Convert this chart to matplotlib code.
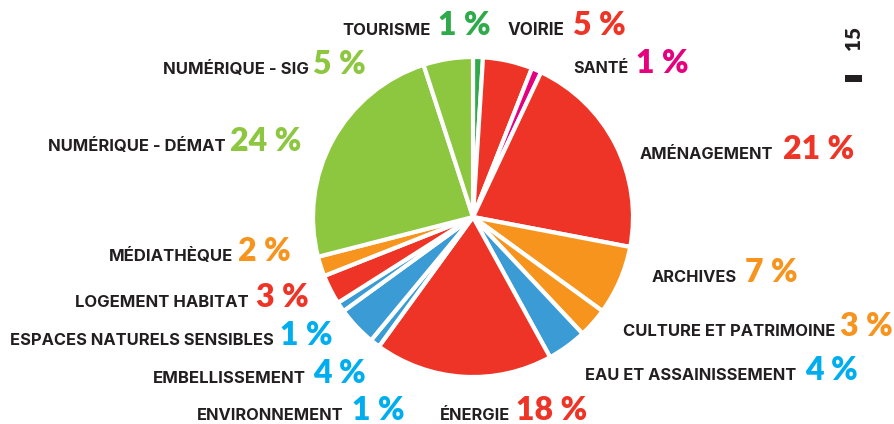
import matplotlib
matplotlib.use("Agg")
import matplotlib.pyplot as plt

# ---- data ----
categories = ["TOURISME", "VOIRIE", "SANTÉ", "AMÉNAGEMENT", "ARCHIVES",
              "CULTURE ET PATRIMOINE", "EAU ET ASSAINISSEMENT", "ÉNERGIE",
              "ENVIRONNEMENT", "EMBELLISSEMENT", "ESPACES NATURELS SENSIBLES",
              "LOGEMENT HABITAT", "MÉDIATHÈQUE", "NUMÉRIQUE - DÉMAT",
              "NUMÉRIQUE - SIG"]
values = [1, 5, 1, 21, 7, 3, 4, 18, 1, 4, 1, 3, 2, 24, 5]
pct_labels = ["1 %", "5 %", "1 %", "21 %", "7 %", "3 %", "4 %", "18 %",
              "1 %", "4 %", "1 %", "3 %", "2 %", "24 %", "5 %"]
page_number = "15"

# ---- styles ----
RED, LGREEN, DGREEN, MAG, ORA, BLUE, CYAN = ("#EE3426", "#8DC63F", "#2EAA4A",
                                             "#E5007D", "#F7941E", "#3A9BD5", "#00AEEF")
slice_colors = [DGREEN, RED, MAG, RED, ORA, ORA, BLUE, RED, BLUE, BLUE, BLUE,
                RED, ORA, LGREEN, LGREEN]
pct_colors = [DGREEN, RED, MAG, RED, ORA, ORA, CYAN, RED, CYAN, CYAN, CYAN,
              RED, ORA, LGREEN, LGREEN]
# label layout in pixel coords: (name x start, name x end, pct x start, baseline y from top)
label_pos = [(342, 430, 438, 35), (508, 565, 573, 35), (573, 628, 636, 73),
             (640, 773, 783, 159), (652, 737, 745, 282), (623, 835, 840, 336),
             (585, 795, 805, 380), (440, 510, 516, 420), (197, 343, 352, 420),
             (153, 305, 313, 383), (10, 272, 280, 345), (75, 248, 256, 307),
             (109, 233, 238, 261), (48, 225, 230, 151), (163, 308, 313, 74)]

W, H = 895, 424
fig = plt.figure(figsize=(W / 100, H / 100), dpi=100)
ax = fig.add_axes([0, 0, 1, 1])
ax.axis("off")

ax.pie(values, colors=slice_colors, startangle=90, counterclock=False,
       center=(473, H - 217), radius=160,
       wedgeprops=dict(edgecolor="white", linewidth=3))
ax.set_xlim(0, W)
ax.set_ylim(0, H)
ax.set_aspect("auto")

name_fam = ["Inter", "DejaVu Sans"]
pct_fam = ["Lato", "DejaVu Sans"]
TXT = "#231F20"
renderer = fig.canvas.get_renderer()
base = 11.0
for name, pct, pc, (nx, ne, px, by) in zip(categories, pct_labels, pct_colors, label_pos):
    y = H - by
    ax.text(px, y, pct, color=pc, fontsize=23, fontweight="heavy",
            family=pct_fam, ha="left", va="baseline")
    t = ax.text(nx, y, name, color=TXT, fontsize=base, fontweight="bold",
                family=name_fam, ha="left", va="baseline")
    w = t.get_window_extent(renderer).width
    fs = base * (ne - nx) / w
    fs = max(base * 0.88, min(base * 1.12, fs))
    t.set_fontsize(fs)

ax.text(854, H - 38, page_number, rotation=90, color=TXT, fontsize=15,
        fontweight="heavy", family=pct_fam, ha="center", va="center")
ax.add_patch(plt.Rectangle((845, H - 82), 17, 7, color=TXT, lw=0))

fig.savefig("out.png", dpi=100)
